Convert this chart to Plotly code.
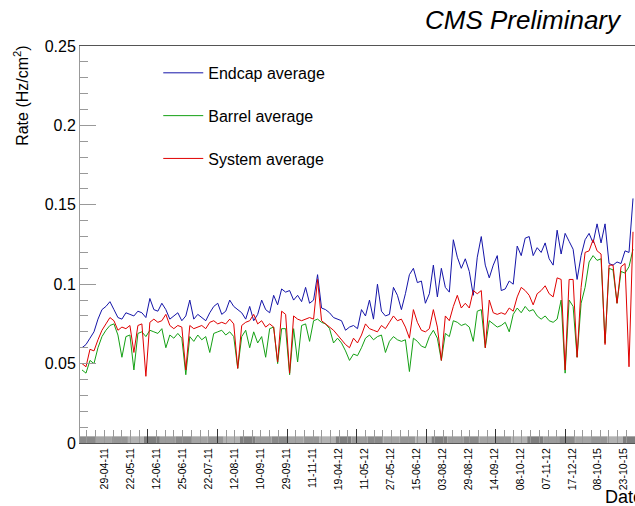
import plotly.graph_objects as go

# ---- data ----
tick_labels = ["29-04-11", "22-05-11", "12-06-11", "25-06-11", "22-07-11", "12-08-11",
               "10-09-11", "29-09-11", "11-11-11", "19-04-12", "11-05-12", "27-05-12",
               "15-06-12", "03-08-12", "29-08-12", "14-09-12", "08-10-12", "07-11-12",
               "17-12-12", "08-10-15", "23-10-15"]

endcap = [0.060, 0.062, 0.066, 0.070, 0.078, 0.084, 0.086, 0.089, 0.084, 0.079,
          0.078, 0.082, 0.081, 0.080, 0.083, 0.082, 0.079, 0.091, 0.084, 0.083,
          0.088, 0.084, 0.078, 0.080, 0.082, 0.077, 0.080, 0.090, 0.078, 0.081,
          0.079, 0.077, 0.082, 0.086, 0.088, 0.081, 0.083, 0.090, 0.086, 0.084,
          0.082, 0.078, 0.086, 0.077, 0.081, 0.090, 0.084, 0.082, 0.093, 0.087,
          0.097, 0.095, 0.096, 0.090, 0.093, 0.089, 0.098, 0.088, 0.090, 0.106,
          0.085, 0.084, 0.082, 0.079, 0.078, 0.077, 0.071, 0.073, 0.074, 0.072,
          0.084, 0.080, 0.090, 0.078, 0.100, 0.083, 0.080, 0.081, 0.098, 0.093,
          0.084, 0.094, 0.106, 0.110, 0.101, 0.102, 0.088, 0.094, 0.112, 0.092,
          0.110, 0.098, 0.095, 0.128, 0.117, 0.110, 0.116, 0.108, 0.093, 0.117,
          0.130, 0.112, 0.104, 0.112, 0.118, 0.096, 0.097, 0.102, 0.100, 0.124,
          0.118, 0.129, 0.130, 0.118, 0.123, 0.120, 0.126, 0.116, 0.112, 0.134,
          0.119, 0.132, 0.127, 0.122, 0.103, 0.118, 0.128, 0.132, 0.126, 0.138,
          0.126, 0.138, 0.113, 0.112, 0.114, 0.113, 0.121, 0.120, 0.154]

barrel = [0.046, 0.044, 0.052, 0.050, 0.060, 0.067, 0.071, 0.074, 0.075, 0.068,
          0.054, 0.067, 0.068, 0.046, 0.069, 0.070, 0.067, 0.071, 0.070, 0.069,
          0.072, 0.060, 0.068, 0.066, 0.069, 0.066, 0.043, 0.067, 0.064, 0.068,
          0.065, 0.067, 0.057, 0.069, 0.070, 0.071, 0.068, 0.070, 0.067, 0.047,
          0.067, 0.071, 0.060, 0.070, 0.063, 0.067, 0.054, 0.072, 0.073, 0.050,
          0.072, 0.072, 0.043, 0.072, 0.051, 0.074, 0.075, 0.064, 0.077, 0.078,
          0.076, 0.075, 0.072, 0.063, 0.066, 0.063, 0.058, 0.052, 0.056, 0.055,
          0.060, 0.066, 0.068, 0.065, 0.067, 0.068, 0.057, 0.064, 0.067, 0.065,
          0.064, 0.065, 0.045, 0.066, 0.064, 0.061, 0.060, 0.067, 0.071, 0.066,
          0.052, 0.069, 0.067, 0.077, 0.076, 0.074, 0.075, 0.073, 0.064, 0.083,
          0.084, 0.060, 0.077, 0.075, 0.073, 0.074, 0.076, 0.070, 0.081, 0.085,
          0.082, 0.086, 0.083, 0.084, 0.080, 0.078, 0.080, 0.077, 0.076, 0.078,
          0.090, 0.044, 0.090, 0.086, 0.054, 0.088, 0.098, 0.114, 0.118, 0.115,
          0.116, 0.063, 0.110, 0.109, 0.088, 0.108, 0.107, 0.111, 0.122]

system = [0.050, 0.048, 0.059, 0.058, 0.065, 0.071, 0.075, 0.079, 0.077, 0.071,
          0.073, 0.072, 0.074, 0.057, 0.074, 0.075, 0.042, 0.076, 0.078, 0.076,
          0.077, 0.081, 0.074, 0.072, 0.074, 0.073, 0.046, 0.074, 0.072, 0.073,
          0.074, 0.072, 0.076, 0.077, 0.075, 0.076, 0.075, 0.078, 0.075, 0.047,
          0.074, 0.076, 0.077, 0.081, 0.075, 0.077, 0.073, 0.075, 0.073, 0.051,
          0.083, 0.081, 0.044, 0.080, 0.078, 0.077, 0.078, 0.079, 0.078, 0.103,
          0.077, 0.075, 0.073, 0.071, 0.068, 0.065, 0.062, 0.060, 0.066, 0.063,
          0.068, 0.075, 0.072, 0.071, 0.070, 0.074, 0.072, 0.076, 0.080, 0.077,
          0.078, 0.073, 0.066, 0.084, 0.076, 0.071, 0.070, 0.072, 0.084, 0.073,
          0.052, 0.080, 0.077, 0.086, 0.093, 0.085, 0.088, 0.085, 0.096, 0.094,
          0.096, 0.060, 0.090, 0.082, 0.081, 0.082, 0.081, 0.085, 0.083, 0.092,
          0.098, 0.096, 0.093, 0.087, 0.094, 0.096, 0.099, 0.094, 0.092, 0.104,
          0.103, 0.046, 0.103, 0.103, 0.054, 0.098, 0.120, 0.121, 0.128, 0.121,
          0.119, 0.062, 0.112, 0.112, 0.088, 0.111, 0.113, 0.048, 0.133]

n = len(endcap)
xs = list(range(n))

# label positions along the bin axis (one label every 6.5 bins)
label_pos = [5.75 + 6.5 * k for k in range(len(tick_labels))]

FONT = "Liberation Sans, Arial, Helvetica, sans-serif"

fig = go.Figure()

fig.add_trace(go.Scatter(x=xs, y=endcap, mode="lines", name="Endcap average",
                         line=dict(color="#1414a8", width=1),
                         legendgroup="a"))
fig.add_trace(go.Scatter(x=xs, y=barrel, mode="lines", name="Barrel average",
                         line=dict(color="#14a014", width=1),
                         legendgroup="b"))
fig.add_trace(go.Scatter(x=xs, y=system, mode="lines", name="System average",
                         line=dict(color="#e00000", width=1),
                         legendgroup="c"))
# dummy trace so the tick-only overlay axis is drawn
fig.add_trace(go.Scatter(x=[None], y=[None], xaxis="x2", showlegend=False,
                         hoverinfo="skip"))

# gray strip along the bottom of the frame
grays = ["#8a8a8a", "#a4a4a4", "#969696", "#b2b2b2", "#7e7e7e", "#9c9c9c"]
shapes = []
step = 4
for k, s in enumerate(range(0, n, step)):
    shapes.append(dict(type="rect", xref="x", yref="y", x0=s - 0.5,
                       x1=min(s + step, n) - 0.5, y0=0, y1=0.0042,
                       fillcolor=grays[k % len(grays)], line=dict(width=0),
                       layer="below"))

fig.update_layout(
    width=635, height=506,
    margin=dict(l=80, r=0, t=46, b=63),
    paper_bgcolor="white", plot_bgcolor="white",
    font=dict(family=FONT, color="black"),
    shapes=shapes,
    showlegend=True,
    legend=dict(x=0.141, y=0.975, xanchor="left", yanchor="top",
                font=dict(size=16, family=FONT), bgcolor="rgba(0,0,0,0)",
                traceorder="grouped", tracegroupgap=19, itemwidth=40),
    xaxis=dict(range=[-0.5, n - 0.5], tickmode="array", tickvals=label_pos,
               ticktext=tick_labels, tickangle=-90, ticks="",
               tickfont=dict(size=10.5, family=FONT), automargin=False,
               showgrid=False, zeroline=False, showline=True,
               linecolor="#555555", linewidth=1, mirror=True),
    xaxis2=dict(overlaying="x", anchor="y", side="bottom", automargin=False,
                range=[-0.5, n - 0.5], showticklabels=False, showgrid=False,
                zeroline=False, ticks="inside", tick0=16.5, dtick=17.43,
                ticklen=14, tickcolor="#333333",
                minor=dict(ticks="inside", tick0=16.5, dtick=17.43 / 8,
                           ticklen=13, tickcolor="#999999")),
    yaxis=dict(range=[0, 0.25], dtick=0.05, ticks="inside", ticklen=16,
               tickcolor="#999999", tickfont=dict(size=16, family=FONT),
               automargin=False,
               showgrid=False, zeroline=False, showline=True,
               linecolor="#999999", linewidth=1, mirror=True,
               minor=dict(ticks="inside", dtick=0.01, ticklen=8,
                          tickcolor="#999999")),
    annotations=[
        dict(text="<i>CMS Preliminary</i>", xref="paper", yref="paper",
             x=0.980, y=1.0655, xanchor="right", yanchor="middle",
             showarrow=False, font=dict(size=26, family=FONT)),
        dict(text="Rate (Hz/cm<sup>2</sup>)", xref="paper", yref="paper",
             x=-0.1066, y=1.005, xanchor="center", yanchor="top",
             textangle=-90, showarrow=False, font=dict(size=16, family=FONT)),
        dict(text="Date", xref="paper", yref="paper",
             x=0.942, y=-0.136, xanchor="left", yanchor="middle",
             showarrow=False, font=dict(size=18, family=FONT)),
    ],
)

fig.write_html(
    "out.html",
    config={"displayModeBar": False},
    post_script="document.body.style.margin='0';"
                "document.body.style.overflow='hidden';",
)
